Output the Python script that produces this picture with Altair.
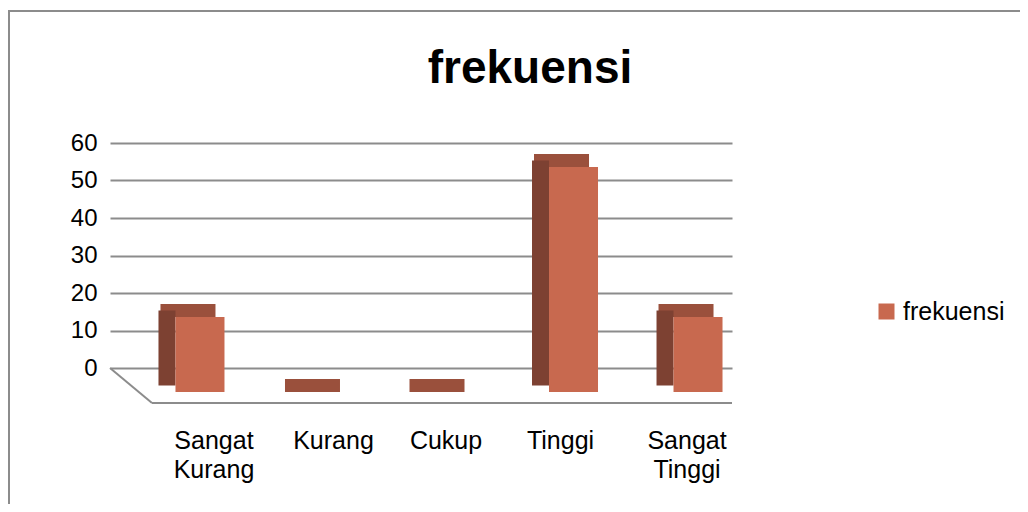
import altair as alt
import pandas as pd

categories = ["Sangat Kurang", "Kurang", "Cukup", "Tinggi", "Sangat Tinggi"]
values = [20, 0, 0, 60, 20]
series = ["frekuensi"] * 5
y_ticks = [0, 10, 20, 30, 40, 50, 60]
title_text = "frekuensi"

df = pd.DataFrame({"kategori": categories, "nilai": values, "seri": series})

FONT = "Liberation Sans"
FRONT = "#c8694f"
TOP = "#9a503c"
SIDE = "#7d4132"
GRID = "#8c8c8c"

W, H = 622, 225
PL, PT = 102, 135
PR = 1012 - PL - W
PB = 496 - PT - H

label_shift = ("datum.value == 'Sangat Kurang' ? 42 : datum.value == 'Kurang' ? 37 : "
               "datum.value == 'Cukup' ? 25 : datum.value == 'Tinggi' ? 15 : 17")

xs = alt.X("kategori:N", sort=categories,
           scale=alt.Scale(paddingInner=0.6064, paddingOuter=0.301),
           axis=alt.Axis(title=None, labelFontSize=25, labelFont=FONT, labelColor="black",
                         labelAngle=0, labelPadding=60, labelOffset={"expr": label_shift},
                         ticks=False, domain=False,
                         grid=False, labelExpr="split(datum.label, ' ')", labelLineHeight=29,
                         labelBaseline="top", labelOverlap=False))
yaxis = alt.Axis(title=None, values=y_ticks, labelFontSize=24, labelOverlap=False,
                 labelFont=FONT, labelColor="black", labelPadding=13, ticks=False,
                 domain=False, grid=True, gridColor=GRID, gridWidth=2)
yscale = alt.Scale(domain=[0, 60], nice=False)
ys = alt.Y("nilai:Q", scale=yscale, axis=yaxis)

base = alt.Chart(df)
one = "datum.kategori == 'Kurang'"

frame = base.mark_rect(fill=None, stroke=GRID, strokeWidth=2).encode(
    x=alt.value(-101), x2=alt.value(W + PR + 20), y=alt.value(-132), y2=alt.value(H + PB + 20)
).transform_filter(one)

title = base.mark_text(text=title_text, fontSize=46, font=FONT, fontWeight="bold", color="black",
                       align="center", baseline="alphabetic").encode(
    x=alt.value(420), y=alt.value(-60)
).transform_filter(one)

floor_front = base.mark_rule(color=GRID, strokeWidth=2, yOffset=35).encode(
    x=alt.value(42), x2=alt.value(W), y=alt.YDatum(0, scale=yscale, axis=yaxis)
).transform_filter(one)

floor_diag = base.mark_rule(color=GRID, strokeWidth=2, y2Offset=35).encode(
    x=alt.value(0), x2=alt.value(42), y=alt.YDatum(0, scale=yscale, axis=yaxis), y2=alt.datum(0)
).transform_filter(one)

top_face = base.mark_bar(color=TOP, width=55, xOffset=16, yOffset=11, y2Offset=24).encode(
    x=xs, y=ys, y2=alt.Y2("nilai:Q")
)

side_face = base.mark_bar(color=SIDE, width=17, xOffset=-5, yOffset=17.5, y2Offset=17.5).encode(
    x=xs, y=ys, y2=alt.datum(0)
)

front_face = base.mark_bar(width=49, xOffset=28, yOffset=24, y2Offset=24).encode(
    x=xs, y=ys, y2=alt.datum(0),
    color=alt.Color("seri:N", scale=alt.Scale(range=[FRONT]),
                    legend=alt.Legend(title=None, orient="none", legendX=764, legendY=156,
                                      symbolType="square", symbolSize=256, symbolStrokeWidth=0,
                                      labelFontSize=25, labelFont=FONT, labelColor="black",
                                      labelOffset=4))
)

chart = alt.layer(frame, title, floor_front, floor_diag, top_face, side_face, front_face).properties(
    width=W, height=H,
    padding={"left": PL, "top": PT, "right": PR, "bottom": PB},
    autosize=alt.AutoSizeParams(type="none"),
).configure_view(stroke=None)

chart.save("out.html", embed_options={"renderer": "svg", "actions": False})
